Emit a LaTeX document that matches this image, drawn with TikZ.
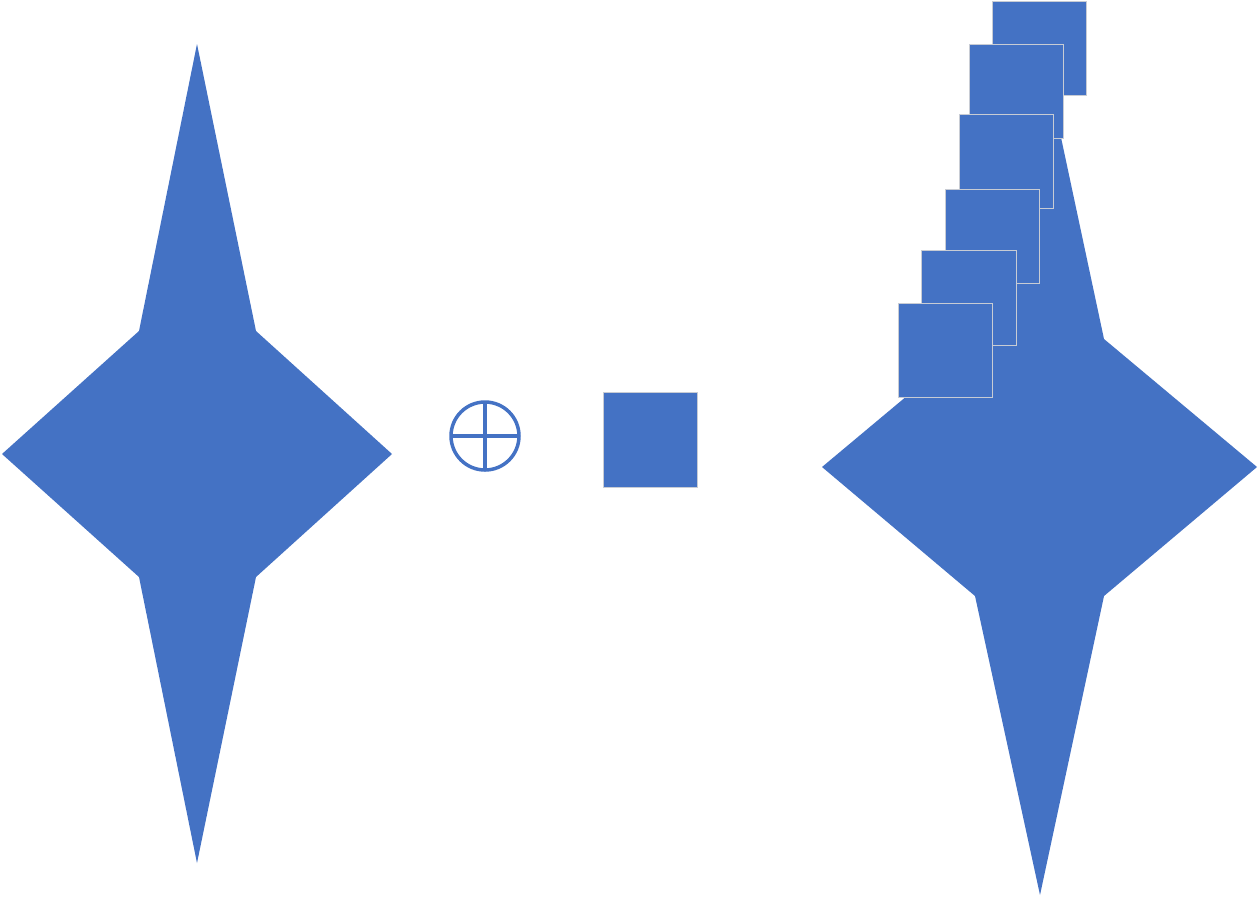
\documentclass[tikz,border=0pt]{standalone}
\definecolor{shapeblue}{HTML}{4472C4}
\definecolor{edgegrey}{HTML}{C8CCD4}
\begin{document}
\begin{tikzpicture}[x=1pt,y=-1pt,
  starfill/.style={fill=shapeblue,draw=none},
  sq/.style={fill=shapeblue,draw=edgegrey,line width=1pt}]
\useasboundingbox (0,0) rectangle (1260,898);
% left star
\path[starfill] (197,44) -- (256,331) -- (392,454) -- (256,577) -- (197,863)
  -- (139,577) -- (2,454) -- (139,331) -- cycle;
% circle with cross
\draw[shapeblue,line width=3.5pt] (485,436) circle (34);
\draw[shapeblue,line width=3.5pt] (485,402) -- (485,470) (451,436) -- (519,436);
% middle square
\draw[sq] (603,392) rectangle (697,487);
% right star
\path[starfill] (1040,39) -- (1104,339) -- (1257,467) -- (1104,596) -- (1040,895)
  -- (975,596) -- (822,467) -- (975,339) -- cycle;
% stacked squares
\draw[sq] (992,1) rectangle (1086,95);
\draw[sq] (969,44) rectangle (1063,138);
\draw[sq] (959,114) rectangle (1053,208);
\draw[sq] (945,189) rectangle (1039,283);
\draw[sq] (921,250) rectangle (1016,345);
\draw[sq] (898,303) rectangle (992,397);
\end{tikzpicture}
\end{document}
